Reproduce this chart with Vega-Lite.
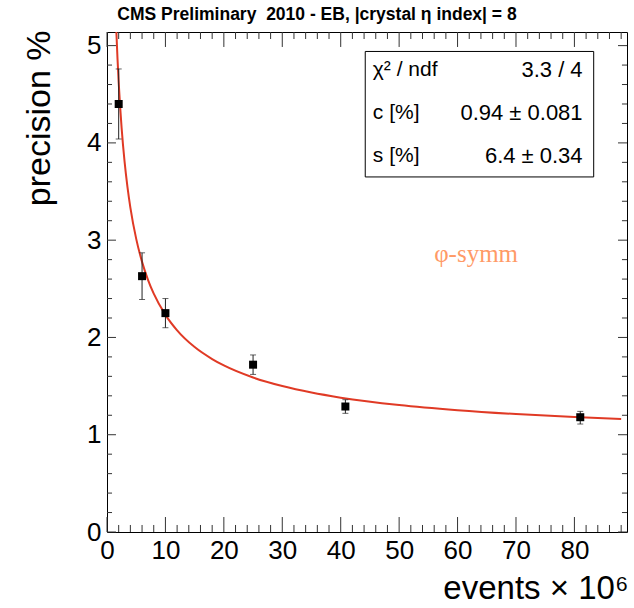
{
  "$schema": "https://vega.github.io/schema/vega-lite/v6.json",
  "width": 520,
  "height": 500,
  "autosize": {"type": "none"},
  "padding": {"left": 107, "top": 32, "right": 7, "bottom": 76},
  "background": "white",
  "config": {
    "view": {"stroke": "black", "strokeWidth": 1},
    "font": "Liberation Sans",
    "axis": {"grid": false, "domain": false, "ticks": false, "labelColor": "black", "titleColor": "black", "labelFont": "Liberation Sans", "titleFont": "Liberation Sans", "titleFontWeight": "normal", "labelFlush": false, "labelOverlap": false}
  },
  "title": {
    "text": "CMS Preliminary\u00a0\u00a02010 - EB, |crystal η index| = 8",
    "fontSize": 17.5,
    "fontWeight": "bold",
    "font": "Liberation Sans",
    "color": "black",
    "anchor": "middle",
    "frame": "group",
    "dx": -50,
    "offset": 7
  },
  "datasets": {
    "points": [
      {"events": 2, "precision": 4.40, "lo": 4.04, "hi": 4.76},
      {"events": 6, "precision": 2.63, "lo": 2.39, "hi": 2.87},
      {"events": 10, "precision": 2.25, "lo": 2.10, "hi": 2.40},
      {"events": 25, "precision": 1.72, "lo": 1.62, "hi": 1.82},
      {"events": 40.8, "precision": 1.29, "lo": 1.22, "hi": 1.36},
      {"events": 81, "precision": 1.18, "lo": 1.11, "hi": 1.24}
    ],
    "fit": [
      {"events": 1.5, "precision": 5.309},
      {"events": 1.6, "precision": 5.146},
      {"events": 1.8, "precision": 4.862},
      {"events": 2, "precision": 4.622},
      {"events": 2.5, "precision": 4.155},
      {"events": 3, "precision": 3.813},
      {"events": 3.5, "precision": 3.548},
      {"events": 4, "precision": 3.335},
      {"events": 5, "precision": 3.013},
      {"events": 6, "precision": 2.777},
      {"events": 7, "precision": 2.595},
      {"events": 8, "precision": 2.450},
      {"events": 10, "precision": 2.232},
      {"events": 12, "precision": 2.073},
      {"events": 15, "precision": 1.901},
      {"events": 18, "precision": 1.778},
      {"events": 20, "precision": 1.712},
      {"events": 25, "precision": 1.588},
      {"events": 30, "precision": 1.500},
      {"events": 35, "precision": 1.433},
      {"events": 40, "precision": 1.381},
      {"events": 50, "precision": 1.305},
      {"events": 60, "precision": 1.252},
      {"events": 70, "precision": 1.212},
      {"events": 80, "precision": 1.181},
      {"events": 88, "precision": 1.162}
    ],
    "xmajor": [{"v": 0}, {"v": 10}, {"v": 20}, {"v": 30}, {"v": 40}, {"v": 50}, {"v": 60}, {"v": 70}, {"v": 80}],
    "xminor": [{"v": 2}, {"v": 4}, {"v": 6}, {"v": 8}, {"v": 12}, {"v": 14}, {"v": 16}, {"v": 18}, {"v": 22}, {"v": 24}, {"v": 26}, {"v": 28}, {"v": 32}, {"v": 34}, {"v": 36}, {"v": 38}, {"v": 42}, {"v": 44}, {"v": 46}, {"v": 48}, {"v": 52}, {"v": 54}, {"v": 56}, {"v": 58}, {"v": 62}, {"v": 64}, {"v": 66}, {"v": 68}, {"v": 72}, {"v": 74}, {"v": 76}, {"v": 78}, {"v": 82}, {"v": 84}, {"v": 86}, {"v": 88}],
    "ymajor": [{"v": 0}, {"v": 1}, {"v": 2}, {"v": 3}, {"v": 4}, {"v": 5}],
    "yminor": [{"v": 0.2}, {"v": 0.4}, {"v": 0.6}, {"v": 0.8}, {"v": 1.2}, {"v": 1.4}, {"v": 1.6}, {"v": 1.8}, {"v": 2.2}, {"v": 2.4}, {"v": 2.6}, {"v": 2.8}, {"v": 3.2}, {"v": 3.4}, {"v": 3.6}, {"v": 3.8}, {"v": 4.2}, {"v": 4.4}, {"v": 4.6}, {"v": 4.8}]
  },
  "layer": [
    {
      "data": {"name": "fit"},
      "mark": {"type": "line", "color": "#e03a25", "strokeWidth": 2, "clip": true, "interpolate": "monotone"},
      "encoding": {
        "x": {"field": "events", "type": "quantitative", "scale": {"domain": [0, 89], "nice": false, "zero": false},
          "axis": {"orient": "bottom", "values": [0, 10, 20, 30, 40, 50, 60, 70, 80], "format": "d", "labelPadding": 5, "labelFontSize": 26,
            "title": "events × 10⁶", "titleFontSize": 33, "titleX": 521, "titleY": 66, "titleAlign": "right", "titleBaseline": "alphabetic", "titleAnchor": null}},
        "y": {"field": "precision", "type": "quantitative", "scale": {"domain": [0, 5.14], "nice": false, "zero": false},
          "axis": {"orient": "left", "values": [0, 1, 2, 3, 4, 5], "format": "d", "labelPadding": 6, "labelFontSize": 26,
            "title": "precision %", "titleFontSize": 34, "titleAngle": -90, "titleX": -68, "titleY": -2, "titleAlign": "right", "titleBaseline": "middle", "titleAnchor": null}}
      }
    },
    {
      "data": {"name": "xmajor"},
      "mark": {"type": "rule", "color": "#333333", "strokeWidth": 1},
      "encoding": {"x": {"field": "v", "type": "quantitative"}, "y": {"datum": 0, "type": "quantitative"}, "y2": {"datum": 0.154}}
    },
    {
      "data": {"name": "xmajor"},
      "mark": {"type": "rule", "color": "#333333", "strokeWidth": 1},
      "encoding": {"x": {"field": "v", "type": "quantitative"}, "y": {"datum": 5.14, "type": "quantitative"}, "y2": {"datum": 4.986}}
    },
    {
      "data": {"name": "xminor"},
      "mark": {"type": "rule", "color": "#333333", "strokeWidth": 1},
      "encoding": {"x": {"field": "v", "type": "quantitative"}, "y": {"datum": 0, "type": "quantitative"}, "y2": {"datum": 0.072}}
    },
    {
      "data": {"name": "xminor"},
      "mark": {"type": "rule", "color": "#333333", "strokeWidth": 1},
      "encoding": {"x": {"field": "v", "type": "quantitative"}, "y": {"datum": 5.14, "type": "quantitative"}, "y2": {"datum": 5.068}}
    },
    {
      "data": {"name": "ymajor"},
      "mark": {"type": "rule", "color": "#333333", "strokeWidth": 1},
      "encoding": {"y": {"field": "v", "type": "quantitative"}, "x": {"datum": 0, "type": "quantitative"}, "x2": {"datum": 1.54}}
    },
    {
      "data": {"name": "ymajor"},
      "mark": {"type": "rule", "color": "#333333", "strokeWidth": 1},
      "encoding": {"y": {"field": "v", "type": "quantitative"}, "x": {"datum": 89, "type": "quantitative"}, "x2": {"datum": 87.46}}
    },
    {
      "data": {"name": "yminor"},
      "mark": {"type": "rule", "color": "#333333", "strokeWidth": 1},
      "encoding": {"y": {"field": "v", "type": "quantitative"}, "x": {"datum": 0, "type": "quantitative"}, "x2": {"datum": 0.86}}
    },
    {
      "data": {"name": "yminor"},
      "mark": {"type": "rule", "color": "#333333", "strokeWidth": 1},
      "encoding": {"y": {"field": "v", "type": "quantitative"}, "x": {"datum": 89, "type": "quantitative"}, "x2": {"datum": 88.14}}
    },
    {
      "data": {"name": "points"},
      "mark": {"type": "rule", "color": "#222222", "strokeWidth": 1},
      "encoding": {
        "x": {"field": "events", "type": "quantitative"},
        "y": {"field": "lo", "type": "quantitative"},
        "y2": {"field": "hi"}
      }
    },
    {
      "data": {"name": "points"},
      "mark": {"type": "tick", "orient": "horizontal", "color": "#222222", "size": 6, "thickness": 1},
      "encoding": {
        "x": {"field": "events", "type": "quantitative"},
        "y": {"field": "lo", "type": "quantitative"}
      }
    },
    {
      "data": {"name": "points"},
      "mark": {"type": "tick", "orient": "horizontal", "color": "#222222", "size": 6, "thickness": 1},
      "encoding": {
        "x": {"field": "events", "type": "quantitative"},
        "y": {"field": "hi", "type": "quantitative"}
      }
    },
    {
      "data": {"name": "points"},
      "mark": {"type": "point", "shape": "square", "filled": true, "color": "black", "size": 64, "opacity": 1},
      "encoding": {
        "x": {"field": "events", "type": "quantitative"},
        "y": {"field": "precision", "type": "quantitative"}
      }
    },
    {
      "data": {"values": [{}]},
      "mark": {"type": "rect", "fill": "white", "stroke": "black", "strokeWidth": 1},
      "encoding": {
        "x": {"datum": 44.2, "type": "quantitative"},
        "x2": {"datum": 83.3},
        "y": {"datum": 4.94, "type": "quantitative"},
        "y2": {"datum": 3.65}
      }
    },
    {
      "data": {"values": [{}]},
      "mark": {"type": "text", "align": "left", "baseline": "middle", "fontSize": 21, "font": "Liberation Sans", "color": "black"},
      "encoding": {
        "x": {"datum": 45.5, "type": "quantitative"},
        "y": {"datum": 4.75, "type": "quantitative"},
        "text": {"value": "χ² / ndf"}
      }
    },
    {
      "data": {"values": [{}]},
      "mark": {"type": "text", "align": "right", "baseline": "middle", "fontSize": 22, "font": "Liberation Sans", "color": "black"},
      "encoding": {
        "x": {"datum": 81.4, "type": "quantitative"},
        "y": {"datum": 4.75, "type": "quantitative"},
        "text": {"value": "3.3 / 4"}
      }
    },
    {
      "data": {"values": [{}]},
      "mark": {"type": "text", "align": "left", "baseline": "middle", "fontSize": 21, "font": "Liberation Sans", "color": "black"},
      "encoding": {
        "x": {"datum": 45.5, "type": "quantitative"},
        "y": {"datum": 4.31, "type": "quantitative"},
        "text": {"value": "c [%]"}
      }
    },
    {
      "data": {"values": [{}]},
      "mark": {"type": "text", "align": "right", "baseline": "middle", "fontSize": 22, "font": "Liberation Sans", "color": "black"},
      "encoding": {
        "x": {"datum": 81.4, "type": "quantitative"},
        "y": {"datum": 4.31, "type": "quantitative"},
        "text": {"value": "0.94 ± 0.081"}
      }
    },
    {
      "data": {"values": [{}]},
      "mark": {"type": "text", "align": "left", "baseline": "middle", "fontSize": 21, "font": "Liberation Sans", "color": "black"},
      "encoding": {
        "x": {"datum": 45.5, "type": "quantitative"},
        "y": {"datum": 3.87, "type": "quantitative"},
        "text": {"value": "s [%]"}
      }
    },
    {
      "data": {"values": [{}]},
      "mark": {"type": "text", "align": "right", "baseline": "middle", "fontSize": 22, "font": "Liberation Sans", "color": "black"},
      "encoding": {
        "x": {"datum": 81.4, "type": "quantitative"},
        "y": {"datum": 3.87, "type": "quantitative"},
        "text": {"value": "6.4 ± 0.34"}
      }
    },
    {
      "data": {"values": [{}]},
      "mark": {"type": "text", "align": "left", "baseline": "middle", "fontSize": 25, "font": "Liberation Serif", "color": "#ff9a66"},
      "encoding": {
        "x": {"datum": 56, "type": "quantitative"},
        "y": {"datum": 2.86, "type": "quantitative"},
        "text": {"value": "φ-symm"}
      }
    }
  ]
}
